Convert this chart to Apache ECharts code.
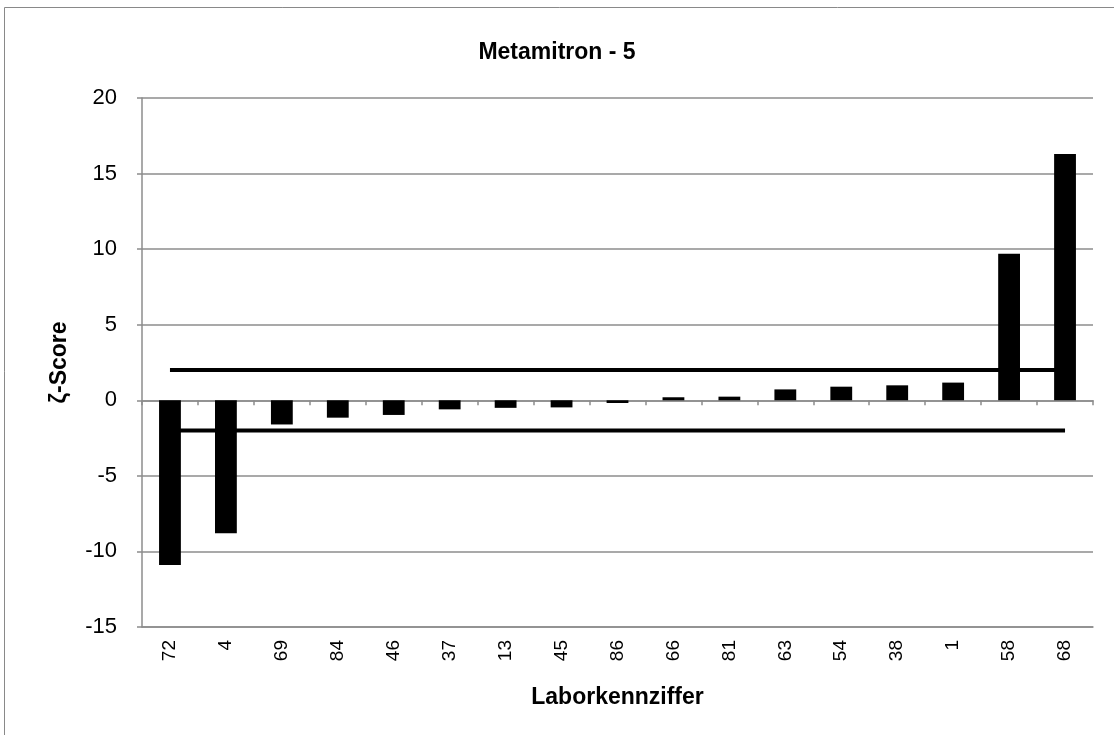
<!DOCTYPE html>
<html><head><meta charset="utf-8">
<script src="https://cdn.jsdelivr.net/npm/echarts@6/dist/echarts.min.js"></script>
<style>html,body{margin:0;padding:0;background:#fff}#c{width:1114px;height:735px}</style>
</head><body><div id="c"></div>
<script>
const categories = ['72','4','69','84','46','37','13','45','86','66','81','63','54','38','1','58','68'];
const zScores = [-10.9,-8.8,-1.6,-1.15,-0.97,-0.6,-0.5,-0.47,-0.18,0.2,0.24,0.72,0.9,0.99,1.17,9.7,16.3];
const upperLimit = [2,2,2,2,2,2,2,2,2,2,2,2,2,2,2,2,2];
const lowerLimit = [-2,-2,-2,-2,-2,-2,-2,-2,-2,-2,-2,-2,-2,-2,-2,-2,-2];
const yTicks = {min:-15, max:20, interval:5};
const FONT = 'Liberation Sans, Arial, sans-serif';

const chart = echarts.init(document.getElementById('c'));
chart.setOption({
  animation:false,
  backgroundColor:'#fff',
  graphic:[{type:'rect',shape:{x:4.5,y:7.5,width:1200,height:800},style:{fill:'none',stroke:'#898989',lineWidth:1},z:-1}],
  title:{text:'Metamitron - 5',left:'center',top:36,textStyle:{fontFamily:FONT,fontSize:23,fontWeight:'bold',color:'#000'}},
  grid:{left:142,right:21,top:98,bottom:108},
  xAxis:[{
    type:'category',data:categories,position:'bottom',
    axisLine:{onZero:false,lineStyle:{color:'#8c8c8c',width:1.5}},
    axisTick:{show:false},
    axisLabel:{rotate:90,fontFamily:FONT,fontSize:19,color:'#000',margin:13,interval:0},
    name:'Laborkennziffer',nameLocation:'middle',nameGap:59,
    nameTextStyle:{fontFamily:FONT,fontSize:23,fontWeight:'bold',color:'#000'}
  },{
    type:'category',data:categories,position:'bottom',
    axisLine:{onZero:true,lineStyle:{color:'#8c8c8c',width:1.5}},
    axisTick:{show:true,length:5,lineStyle:{color:'#8c8c8c',width:1.5}},
    axisLabel:{show:false}
  }],
  yAxis:{
    type:'value',min:yTicks.min,max:yTicks.max,interval:yTicks.interval,
    axisLine:{show:true,lineStyle:{color:'#8c8c8c',width:1.5}},
    axisTick:{show:true,length:5,lineStyle:{color:'#8c8c8c',width:1.5}},
    splitLine:{lineStyle:{color:'#8c8c8c',width:1.5}},
    axisLabel:{fontFamily:FONT,fontSize:22,color:'#000',margin:25},
    name:'ζ-Score',nameLocation:'middle',nameGap:71,nameMoveOverlap:false,
    nameTextStyle:{fontFamily:FONT,fontSize:23,fontWeight:'bold',color:'#000'}
  },
  series:[
    {type:'line',data:upperLimit,xAxisIndex:0,symbol:'none',lineStyle:{color:'#000',width:4},z:1},
    {type:'line',data:lowerLimit,xAxisIndex:0,symbol:'none',lineStyle:{color:'#000',width:4},z:1},
    {type:'bar',data:zScores,xAxisIndex:0,barWidth:'39%',itemStyle:{color:'#000'},z:2}
  ]
});
</script></body></html>
